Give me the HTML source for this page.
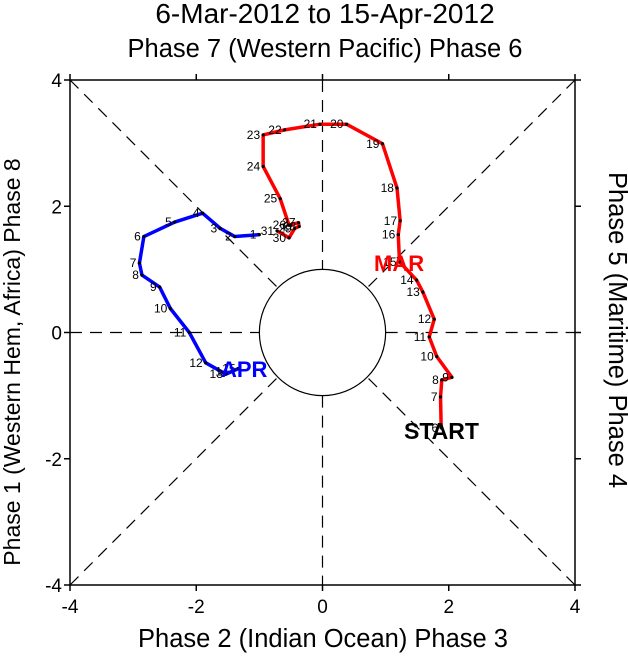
<!DOCTYPE html>
<html><head><meta charset="utf-8"><style>
html,body{margin:0;padding:0;background:#fff}
svg{display:block;font-family:"Liberation Sans",sans-serif}
</style></head><body>
<svg id="c" width="628" height="656" xmlns="http://www.w3.org/2000/svg"></svg>
<script>
const marX=[1.88,1.87,1.89,2.05,1.81,1.69,1.77,1.59,1.49,1.22,1.20,1.23,1.18,0.95,0.38,-0.04,-0.60,-0.94,-0.94,-0.67,-0.53,-0.38,-0.37,-0.44,-0.53,-0.72];
const marY=[-1.51,-1.02,-0.75,-0.71,-0.38,-0.07,0.21,0.64,0.83,1.12,1.55,1.77,2.29,2.99,3.30,3.30,3.21,3.13,2.63,2.12,1.70,1.74,1.68,1.65,1.50,1.61];
const marDays=[6,7,8,9,10,11,12,13,14,15,16,17,18,19,20,21,22,23,24,25,26,27,28,29,30,31];
const aprX=[-1.00,-1.39,-1.62,-1.90,-2.34,-2.83,-2.90,-2.86,-2.58,-2.41,-2.11,-1.85,-1.53,-1.44,-1.33];
const aprY=[1.55,1.52,1.65,1.89,1.75,1.52,1.10,0.91,0.72,0.38,0.00,-0.48,-0.66,-0.62,-0.57];
const aprDays=[1,2,3,4,5,6,7,8,9,10,11,12,13,14,15];
const ticks=[-4,-2,0,2,4];

const L=70,R=575,T=80,B=585;
const sx=v=>L+(v+4)/8*(R-L);
const sy=v=>B-(v+4)/8*(B-T);
const svg=document.getElementById('c');
const NS='http://www.w3.org/2000/svg';
function mk(tag,attrs,parent){const e=document.createElementNS(NS,tag);for(const k in attrs)e.setAttribute(k,attrs[k]);(parent||svg).appendChild(e);return e;}
function txt(s,attrs,name){const e=mk('text',attrs);e.textContent=s;return e;}

const cx=sx(0),cy=sy(0),r=sx(1)-sx(0);
const g=mk('g',{stroke:'#000','stroke-width':1.2,'stroke-dasharray':'12,8',fill:'none'});


mk('line',{x1:L,y1:cy,x2:cx-r,y2:cy},g);
mk('line',{x1:cx+r,y1:cy,x2:R,y2:cy},g);
mk('line',{x1:cx,y1:T,x2:cx,y2:cy-r},g);
mk('line',{x1:cx,y1:cy+r,x2:cx,y2:B},g);
const d=r/Math.SQRT2;
[[L,T,-1,-1],[R,T,1,-1],[L,B,-1,1],[R,B,1,1]].forEach(([x,y,a,b])=>mk('line',{x1:x,y1:y,x2:cx+a*d,y2:cy+b*d},g));
const circ=mk('circle',{cx:cx,cy:cy,r:r,fill:'none',stroke:'#000','stroke-width':1.2});



const fr=mk('rect',{x:L,y:T,width:R-L,height:B-T,fill:'none',stroke:'#000','stroke-width':1.5});


ticks.forEach(t=>{
  mk('line',{x1:sx(t),y1:B,x2:sx(t),y2:B+6,stroke:'#000','stroke-width':1.5});
  mk('line',{x1:sx(t),y1:T,x2:sx(t),y2:T-6,stroke:'#000','stroke-width':1.5});
  mk('line',{x1:L,y1:sy(t),x2:L-6,y2:sy(t),stroke:'#000','stroke-width':1.5});
  mk('line',{x1:R,y1:sy(t),x2:R+6,y2:sy(t),stroke:'#000','stroke-width':1.5});
  txt(String(t),{x:sx(t),y:B+28,'font-size':19,'text-anchor':'middle'},'x-tick-label');
  txt(String(t),{x:L-8,y:sy(t)+7,'font-size':19,'text-anchor':'end'},'y-tick-label');
});

function track(xs,ys,days,color,name){
  const pts=xs.map((x,i)=>sx(x)+','+sy(ys[i])).join(' ');
  const pl=mk('polyline',{points:pts,fill:'none',stroke:color,'stroke-width':3.5,'stroke-linejoin':'round'});
  
  
  xs.forEach((x,i)=>{
    const c=mk('circle',{cx:sx(x),cy:sy(ys[i]),r:1.6,fill:'#000'});
    
    
    txt(String(days[i]),{x:sx(x)-3,y:sy(ys[i])+4,'font-size':12,'text-anchor':'end'},name+'-day-label');
  });
}
track(marX,marY,marDays,'#ff0000','march');
track(aprX,aprY,aprDays,'#0000ff','april');

txt('MAR',{x:374,y:271,'font-size':22,'font-weight':'bold',fill:'#ff0000'},'march-label');
txt('APR',{x:221,y:377,'font-size':22,'font-weight':'bold',fill:'#0000ff'},'april-label');
txt('START',{x:404,y:439,'font-size':23,'font-weight':'bold',fill:'#000'},'start-label');

txt('6-Mar-2012 to 15-Apr-2012',{x:325,y:23,'font-size':28,'text-anchor':'middle'},'chart-title');
txt('Phase 7 (Western Pacific) Phase 6',{x:325,y:57,'font-size':25.5,'text-anchor':'middle'},'top-axis-title');
txt('Phase 2 (Indian Ocean) Phase 3',{x:323,y:647,'font-size':25.5,'text-anchor':'middle'},'x-axis-title');
txt('Phase 1 (Western Hem, Africa) Phase 8',{x:0,y:0,'font-size':23,'text-anchor':'middle',transform:'translate(20,362) rotate(-90)'},'y-axis-title');
txt('Phase 5 (Maritime) Phase 4',{x:0,y:0,'font-size':25.5,'text-anchor':'middle',transform:'translate(609,330) rotate(90)'},'right-axis-title');
</script>
</body></html>
